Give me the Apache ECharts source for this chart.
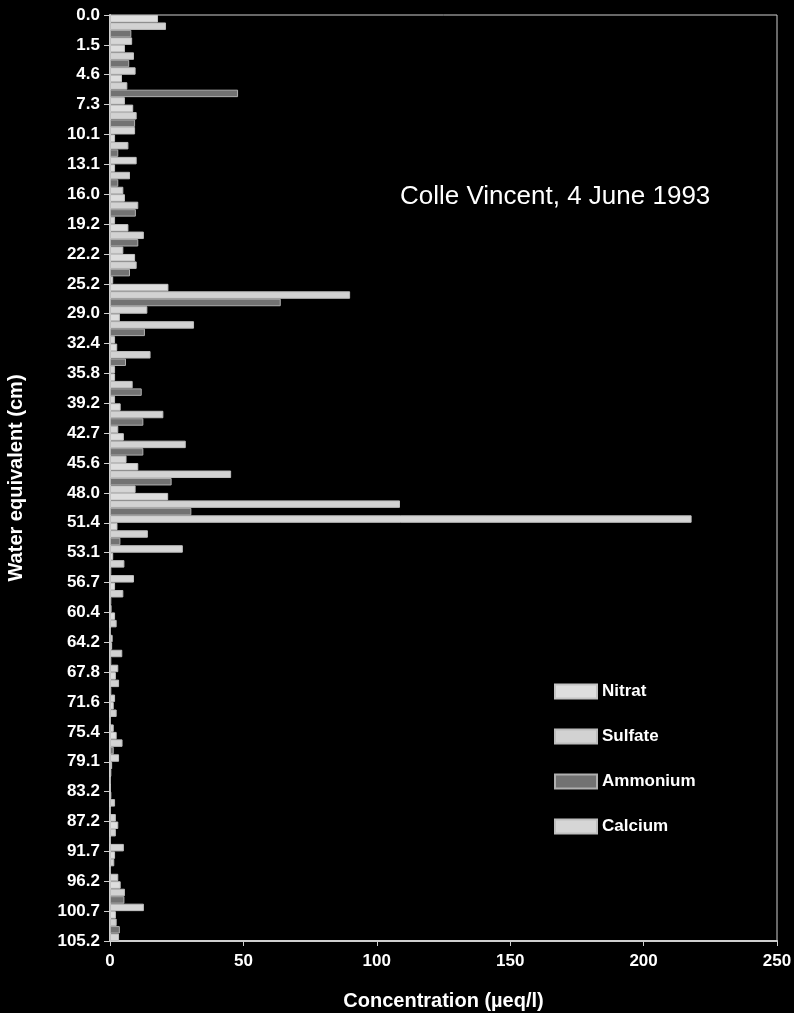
<!DOCTYPE html>
<html>
<head>
<meta charset="utf-8">
<script src="https://cdn.jsdelivr.net/npm/echarts@6/dist/echarts.min.js"></script>
<style>
  html, body { margin: 0; padding: 0; background: #000; }
  #chart { width: 794px; height: 1013px; }
</style>
</head>
<body>
<div id="chart"></div>
<script>
// depth boundaries (cm water equivalent), one sample between each pair
var depthLabels = ['0.0', '1.5', '4.6', '7.3', '10.1', '13.1', '16.0', '19.2', '22.2', '25.2',
  '29.0', '32.4', '35.8', '39.2', '42.7', '45.6', '48.0', '51.4', '53.1', '56.7',
  '60.4', '64.2', '67.8', '71.6', '75.4', '79.1', '83.2', '87.2', '91.7', '96.2',
  '100.7', '105.2'];

// concentrations in µeq/l, one value per sample interval
var nitrat   = [18, 5.6, 4.5, 8.7, 1.9, 1.9, 5.6, 6.9, 9.4, 21.9, 3.7, 2.7, 1.9, 4, 5.2, 10.6,
  21.8, 2.8, 1.2, 1.9, 1.9, 0.8, 2.2, 1.4, 2.5, 0.8, 0.5, 3.1, 1.9, 4, 2.2];
var sulfate  = [21, 9, 6.5, 10, 6.9, 7.5, 10.6, 12.7, 10, 90, 31.5, 15.2, 8.5, 20, 28.4, 45.4,
  108.7, 14.2, 5.4, 5, 2.5, 4.6, 3.4, 2.5, 4.7, 0.5, 1.9, 2.2, 1.6, 5.6, 2.5];
var ammonium = [8, 7.2, 48, 9.4, 3.1, 3.1, 9.7, 10.6, 7.5, 64, 13.1, 6, 11.9, 12.5, 12.5, 23.1,
  30.5, 3.9, 0.5, 0.5, 0.3, 0.5, 0.5, 0.3, 1.4, 0.3, 0.3, 0.3, 0.3, 5.4, 3.7];
var calcium  = [8.3, 9.6, 5.6, 9.4, 10, 5, 1.9, 5, 1.2, 14, 1.9, 1.9, 1.9, 3.1, 6.2, 9.6,
  218, 27.3, 9, 0.6, 1, 3.1, 1.9, 1.4, 3.4, 0.3, 2.2, 5.2, 3.1, 12.7, 3.4];

var samples = [];
for (var i = 0; i < depthLabels.length - 1; i++) {
  samples.push(depthLabels[i] + '-' + depthLabels[i + 1]);
}

var font = 'Liberation Sans, Arial, sans-serif';

function barSeries(name, data, color, border) {
  return {
    name: name,
    type: 'bar',
    yAxisIndex: 0,
    data: data,
    barGap: '0%',
    barCategoryGap: '0%',
    itemStyle: { color: color, borderColor: border, borderWidth: 1 }
  };
}

var chart = echarts.init(document.getElementById('chart'));
chart.setOption({
  backgroundColor: '#000',
  animation: false,
  textStyle: { fontFamily: font },
  title: {
    text: 'Colle Vincent, 4 June 1993',
    left: 395,
    top: 179,
    textStyle: { color: '#fff', fontSize: 26, fontWeight: 'normal', fontFamily: font }
  },
  legend: {
    orient: 'vertical',
    icon: 'rect',
    left: 549,
    top: 678,
    itemWidth: 42,
    itemHeight: 14,
    itemGap: 28,
    textStyle: { color: '#fff', fontSize: 17, fontWeight: 'bold', fontFamily: font },
    data: ['Nitrat', 'Sulfate', 'Ammonium', 'Calcium']
  },
  grid: {
    left: 110,
    right: 17,
    top: 15,
    bottom: 72,
    outerBoundsMode: 'none',
    show: true,
    borderColor: '#cfcfcf',
    borderWidth: 1,
    backgroundColor: '#000'
  },
  xAxis: {
    type: 'value',
    min: 0,
    max: 250,
    interval: 50,
    splitLine: { show: false },
    axisLine: { show: true, lineStyle: { color: '#cfcfcf', width: 2 } },
    axisTick: { show: true, length: 5, lineStyle: { color: '#cfcfcf' } },
    axisLabel: { color: '#fff', fontSize: 17, fontWeight: 'bold', margin: 12, fontFamily: font },
    name: 'Concentration (µeq/l)',
    nameLocation: 'middle',
    nameGap: 50,
    nameTextStyle: { color: '#fff', fontSize: 20, fontWeight: 'bold', fontFamily: font }
  },
  yAxis: [
    {
      type: 'category',
      data: samples,
      inverse: true,
      boundaryGap: true,
      show: false
    },
    {
      type: 'category',
      data: depthLabels,
      inverse: true,
      boundaryGap: false,
      position: 'left',
      axisLine: { show: true, lineStyle: { color: '#cfcfcf', width: 2 } },
      axisTick: { show: true, length: 6, lineStyle: { color: '#cfcfcf' } },
      axisLabel: { color: '#fff', fontSize: 17, fontWeight: 'bold', margin: 10, interval: 0, fontFamily: font },
      splitLine: { show: false },
      name: 'Water equivalent (cm)',
      nameLocation: 'middle',
      nameRotate: 90,
      nameGap: 84,
      nameTextStyle: { color: '#fff', fontSize: 20, fontWeight: 'bold', fontFamily: font }
    }
  ],
  series: [
    barSeries('Nitrat', nitrat, '#dedede', '#c4c4c4'),
    barSeries('Sulfate', sulfate, '#d2d2d2', '#bdbdbd'),
    barSeries('Ammonium', ammonium, '#727272', '#b0b0b0'),
    barSeries('Calcium', calcium, '#d6d6d6', '#bfbfbf')
  ]
});
</script>
</body>
</html>
